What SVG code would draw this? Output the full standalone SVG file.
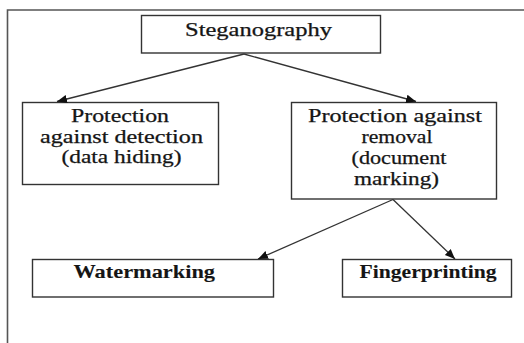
<svg xmlns="http://www.w3.org/2000/svg" width="524" height="343" viewBox="0 0 524 343">
<style>
.box{fill:#fff;stroke:#333;stroke-width:1.4}
.t{font-family:"Liberation Serif","Times New Roman",serif;font-size:18px;fill:#151515;stroke:#151515;stroke-width:0.25;text-anchor:start}
.b{font-weight:bold;stroke-width:0.1}
.c{stroke:#333;stroke-width:1.3;fill:none}
.frame{stroke:#555;stroke-width:1.6;fill:none}
</style>
<defs>
<marker id="ah" viewBox="0 0 10 10" refX="10" refY="5" markerWidth="10" markerHeight="10" markerUnits="userSpaceOnUse" orient="auto">
<path d="M0,0.8 L10,5 L0,9.2 Z" fill="#111"/>
</marker>
</defs>
<rect width="524" height="343" fill="#fff"/>
<path class="frame" d="M7.5,343 V10 H524"/>
<g id="steganography">
<rect class="box" x="141.5" y="15.5" width="239" height="37.5"/>
<text class="t" x="185" y="36" textLength="147" lengthAdjust="spacingAndGlyphs">Steganography</text>
</g>
<g id="detection">
<rect class="box" x="22.5" y="102.5" width="196" height="82"/>
<text class="t" x="71" y="122" textLength="98" lengthAdjust="spacingAndGlyphs">Protection</text>
<text class="t" x="40" y="143" textLength="163" lengthAdjust="spacingAndGlyphs">against detection</text>
<text class="t" x="61.5" y="163" textLength="120" lengthAdjust="spacingAndGlyphs">(data hiding)</text>
</g>
<g id="removal">
<rect class="box" x="291.5" y="102.5" width="205" height="96.5"/>
<text class="t" x="308" y="122" textLength="174" lengthAdjust="spacingAndGlyphs">Protection against</text>
<text class="t" x="361.5" y="143" textLength="71" lengthAdjust="spacingAndGlyphs">removal</text>
<text class="t" x="351.5" y="164" textLength="95" lengthAdjust="spacingAndGlyphs">(document</text>
<text class="t" x="354" y="185" textLength="85" lengthAdjust="spacingAndGlyphs">marking)</text>
</g>
<g id="watermarking">
<rect class="box" x="32.5" y="259.5" width="241" height="37.5"/>
<text class="t b" x="73.5" y="278" textLength="141.5" lengthAdjust="spacingAndGlyphs">Watermarking</text>
</g>
<g id="fingerprinting">
<rect class="box" x="342.5" y="259.5" width="169" height="37.5"/>
<text class="t b" x="359.5" y="278" textLength="137" lengthAdjust="spacingAndGlyphs">Fingerprinting</text>
</g>
<g id="connectors">
<line class="c" x1="244" y1="54" x2="57" y2="101.5" marker-end="url(#ah)"/>
<line class="c" x1="244" y1="54" x2="416" y2="101.5" marker-end="url(#ah)"/>
<line class="c" x1="393" y1="199.5" x2="258" y2="259" marker-end="url(#ah)"/>
<line class="c" x1="393" y1="199.5" x2="455" y2="259" marker-end="url(#ah)"/>
</g>
</svg>
